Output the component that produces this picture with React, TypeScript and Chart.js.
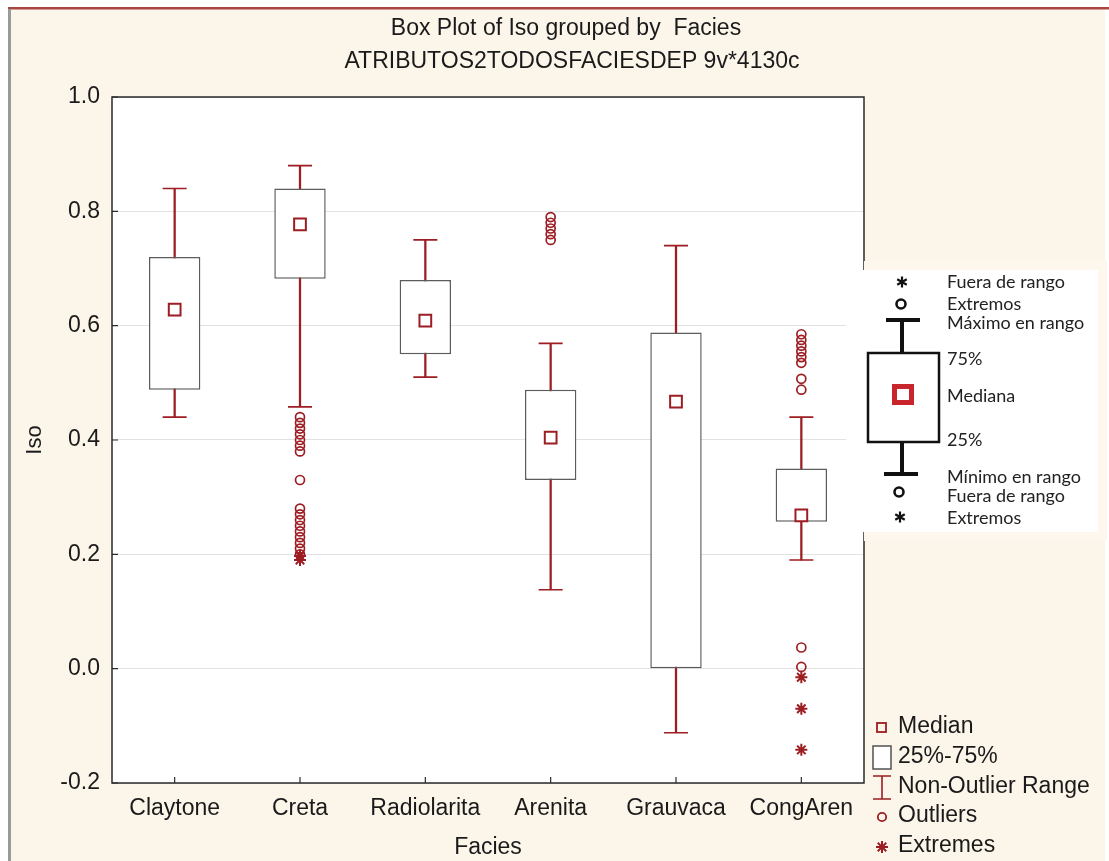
import React, { useEffect, useRef } from 'react';
import { Chart, registerables } from 'chart.js';
Chart.register(...registerables);

const categories = ['Claytone', 'Creta', 'Radiolarita', 'Arenita', 'Grauvaca', 'CongAren'];
const q1Values = [0.488, 0.682, 0.55, 0.33, 0.0, 0.257];
const q3Values = [0.72, 0.84, 0.68, 0.488, 0.588, 0.35];
const medianValues = [0.628, 0.777, 0.609, 0.404, 0.467, 0.268];
const whiskerMin = [0.44, 0.458, 0.51, 0.138, -0.112, 0.19];
const whiskerMax = [0.84, 0.88, 0.75, 0.569, 0.74, 0.44];

const outliersCreta = [0.44, 0.43, 0.42, 0.41, 0.4, 0.39, 0.38, 0.33, 0.28, 0.27, 0.26, 0.25, 0.24, 0.23, 0.22, 0.21, 0.2];
const outliersArenita = [0.79, 0.78, 0.77, 0.76, 0.75];
const outliersCongAren = [0.585, 0.575, 0.565, 0.555, 0.545, 0.535, 0.507, 0.488, 0.037, 0.003];
const extremesCreta = [0.19, 0.197];
const extremesCongAren = [-0.015, -0.07, -0.142];

const yTicks = [-0.2, 0.0, 0.2, 0.4, 0.6, 0.8, 1.0];

const titleLines = ['Box Plot of Iso grouped by  Facies', 'ATRIBUTOS2TODOSFACIESDEP 9v*4130c'];
const legendItems = ['Median', '25%-75%', 'Non-Outlier Range', 'Outliers', 'Extremes'];
const insetLabels = ['Fuera de rango', 'Extremos', 'Máximo en rango', '75%', 'Mediana', '25%', 'Mínimo en rango', 'Fuera de rango', 'Extremos'];

const RED = '#9c1d22';
const BOXGREY = '#5c5c5c';
const CREAM = '#fcf5ea';
const FONT = '"Liberation Sans", Arial, sans-serif';

function pts(cat: string, vals: number[]) {
  return vals.map((v) => ({ x: cat, y: v }));
}

function drawStar(ctx: CanvasRenderingContext2D, x: number, y: number, r: number, arms = 4) {
  ctx.beginPath();
  for (let i = 0; i < arms; i++) {
    const a = (Math.PI / arms) * i + Math.PI / 2;
    ctx.moveTo(x - Math.cos(a) * r, y - Math.sin(a) * r);
    ctx.lineTo(x + Math.cos(a) * r, y + Math.sin(a) * r);
  }
  ctx.stroke();
}

const decorPlugin = {
  id: 'decor',
  beforeDraw(chart: any) {
    const ctx = chart.ctx as CanvasRenderingContext2D;
    const { left, right, top, bottom } = chart.chartArea;
    ctx.save();
    ctx.fillStyle = '#ffffff';
    ctx.fillRect(0, 0, chart.width, chart.height);
    ctx.fillStyle = CREAM;
    ctx.fillRect(10, 9, 1095, chart.height - 9);
    ctx.fillStyle = '#a8453f';
    ctx.fillRect(8, 7, chart.width - 8, 2.5);
    ctx.fillStyle = '#9a9a9a';
    ctx.fillRect(8, 9, 3, chart.height - 9);
    ctx.fillStyle = '#ffffff';
    ctx.fillRect(left, top, right - left, bottom - top);
    ctx.restore();
  },
  afterDraw(chart: any) {
    const ctx = chart.ctx as CanvasRenderingContext2D;
    const { left, right, top, bottom } = chart.chartArea;
    const xs = chart.scales.x;
    const ys = chart.scales.y;
    ctx.save();
    // frame
    ctx.strokeStyle = '#2a2a2a';
    ctx.lineWidth = 1.5;
    ctx.strokeRect(left, top, right - left, bottom - top);
    // inward ticks
    ctx.beginPath();
    yTicks.forEach((v) => {
      const y = ys.getPixelForValue(v);
      ctx.moveTo(left, y);
      ctx.lineTo(left + 6, y);
    });
    categories.forEach((_, i) => {
      const x = xs.getPixelForValue(i);
      ctx.moveTo(x, bottom);
      ctx.lineTo(x, bottom - 6);
    });
    ctx.lineWidth = 1.2;
    ctx.stroke();

    // titles
    ctx.fillStyle = '#1a1a1a';
    ctx.font = `23px ${FONT}`;
    ctx.textAlign = 'center';
    ctx.textBaseline = 'middle';
    ctx.fillText(titleLines[0], 566, 29);
    ctx.fillText(titleLines[1], 572, 62);

    // bottom legend
    ctx.textAlign = 'left';
    ctx.font = `23px ${FONT}`;
    const ly = [727, 757, 787, 816, 846];
    legendItems.forEach((t, i) => ctx.fillText(t, 898, ly[i]));
    ctx.strokeStyle = RED;
    ctx.lineWidth = 1.8;
    ctx.strokeRect(877, 723, 9, 9);
    ctx.strokeStyle = BOXGREY;
    ctx.lineWidth = 1.6;
    ctx.fillStyle = '#ffffff';
    ctx.fillRect(873, 746, 18, 23);
    ctx.strokeRect(873, 746, 18, 23);
    ctx.strokeStyle = RED;
    ctx.beginPath();
    ctx.moveTo(873, 776); ctx.lineTo(891, 776);
    ctx.moveTo(873, 799); ctx.lineTo(891, 799);
    ctx.moveTo(882, 776); ctx.lineTo(882, 799);
    ctx.stroke();
    ctx.lineWidth = 1.8;
    ctx.beginPath();
    ctx.arc(882, 817, 4.2, 0, Math.PI * 2);
    ctx.stroke();
    ctx.lineWidth = 2;
    drawStar(ctx, 882, 847, 6);

    // inset explanatory legend
    ctx.fillStyle = '#fdf7ed';
    ctx.fillRect(864, 261, 243, 280);
    ctx.fillStyle = '#ffffff';
    ctx.fillRect(846, 270, 252, 262);
    ctx.fillStyle = '#222222';
    ctx.font = '18px Lato, "Noto Sans", sans-serif';
    ctx.textBaseline = 'middle';
    const iy = [282, 304, 323, 359, 396, 440, 477, 496, 518];
    insetLabels.forEach((t, i) => ctx.fillText(t, 947, iy[i]));
    ctx.strokeStyle = '#111111';
    ctx.lineWidth = 2.2;
    drawStar(ctx, 902, 282, 5.5, 3);
    drawStar(ctx, 900, 517, 5.5, 3);
    ctx.lineWidth = 2.6;
    ctx.beginPath();
    ctx.arc(901, 304, 4.5, 0, Math.PI * 2);
    ctx.stroke();
    ctx.beginPath();
    ctx.arc(899, 492, 4.5, 0, Math.PI * 2);
    ctx.stroke();
    ctx.lineWidth = 4;
    ctx.beginPath();
    ctx.moveTo(886, 320); ctx.lineTo(920, 320);
    ctx.moveTo(902, 320); ctx.lineTo(902, 353);
    ctx.moveTo(902, 442); ctx.lineTo(902, 474);
    ctx.moveTo(884, 474); ctx.lineTo(918, 474);
    ctx.stroke();
    ctx.lineWidth = 2.5;
    ctx.strokeRect(868, 353, 71, 89);
    ctx.fillStyle = '#c8262c';
    ctx.fillRect(892, 384, 22, 21);
    ctx.fillStyle = '#ffffff';
    ctx.fillRect(897, 389, 12, 11);
    ctx.restore();
  },
};

export default function App() {
  const ref = useRef<HTMLCanvasElement | null>(null);
  useEffect(() => {
    if (!ref.current) return;
    const pointBase = {
      type: 'line' as const,
      showLine: false,
      pointBorderColor: RED,
      pointHoverRadius: 0,
    };
    const chart = new Chart(ref.current, {
      type: 'bar',
      data: {
        labels: categories,
        datasets: [
          {
            ...pointBase,
            label: 'Extremes',
            data: [...pts('Creta', extremesCreta), ...pts('CongAren', extremesCongAren)],
            pointStyle: 'star',
            pointRadius: 6,
            pointBorderWidth: 2,
            pointBackgroundColor: 'transparent',
          } as any,
          {
            ...pointBase,
            label: 'Outliers',
            data: [...pts('Creta', outliersCreta), ...pts('Arenita', outliersArenita), ...pts('CongAren', outliersCongAren)],
            pointStyle: 'circle',
            pointRadius: 4.5,
            pointBorderWidth: 1.7,
            pointBackgroundColor: 'transparent',
          } as any,
          {
            ...pointBase,
            label: 'Median',
            data: medianValues,
            pointStyle: 'rect',
            pointRadius: 8.3,
            pointBorderWidth: 2,
            pointBackgroundColor: '#ffffff',
          } as any,
          {
            ...pointBase,
            label: 'Max',
            data: whiskerMax,
            pointStyle: 'line',
            pointRadius: 12,
            pointBorderWidth: 1.6,
          } as any,
          {
            ...pointBase,
            label: 'Min',
            data: whiskerMin,
            pointStyle: 'line',
            pointRadius: 12,
            pointBorderWidth: 1.6,
          } as any,
          {
            type: 'bar',
            label: '25%-75%',
            data: categories.map((_, i) => [q1Values[i], q3Values[i]]),
            backgroundColor: '#ffffff',
            borderColor: BOXGREY,
            borderWidth: 1.5,
            borderSkipped: false,
            grouped: false,
            barPercentage: 0.41,
            categoryPercentage: 1,
          } as any,
          {
            type: 'bar',
            label: 'Non-Outlier Range',
            data: categories.map((_, i) => [whiskerMin[i], whiskerMax[i]]),
            backgroundColor: RED,
            borderWidth: 0,
            grouped: false,
            barThickness: 1.6,
          } as any,
        ],
      },
      options: {
        responsive: false,
        animation: false,
        events: [],
        layout: { padding: { left: 0, top: 97, right: 245, bottom: 0 } },
        plugins: {
          legend: { display: false },
          title: { display: false },
          tooltip: { enabled: false },
        },
        scales: {
          x: {
            type: 'category',
            offset: true,
            grid: { display: false, drawTicks: false },
            border: { display: false },
            ticks: { color: '#1a1a1a', font: { family: FONT, size: 23 }, padding: 12, maxRotation: 0, autoSkip: false },
            title: { display: true, text: 'Facies', color: '#1a1a1a', font: { family: FONT, size: 23 }, padding: { top: 0, bottom: 0 } },
            afterFit: (s: any) => { s.height = 78; },
          },
          y: {
            min: -0.2,
            max: 1.0,
            afterBuildTicks: (s: any) => { s.ticks = yTicks.map((v) => ({ value: v })); },
            grid: { color: '#e2e2e2', lineWidth: 1, drawTicks: false },
            border: { display: false },
            ticks: {
              color: '#1a1a1a',
              font: { family: FONT, size: 23 },
              padding: 12,
              callback: (v: any) => Number(v).toFixed(1),
            },
            title: { display: true, text: 'Iso', color: '#1a1a1a', font: { family: FONT, size: 22 }, padding: { top: 22, bottom: 0 } },
            afterFit: (s: any) => { s.width = 112; },
          },
        },
      },
      plugins: [decorPlugin],
    });
    return () => chart.destroy();
  }, []);
  return (
    <div style={{ position: 'absolute', left: 0, top: 0, width: 1109, height: 861 }}>
      <canvas ref={ref} width={1109} height={861} style={{ display: 'block' }} />
    </div>
  );
}
